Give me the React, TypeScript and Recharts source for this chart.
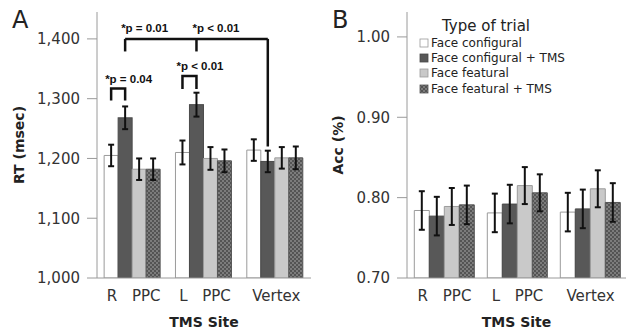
import { BarChart, Bar, XAxis, YAxis, ErrorBar, Legend } from 'recharts';

// categories / series
const sites = ['R PPC', 'L PPC', 'Vertex'];
const trialTypes = ['Face configural', 'Face configural + TMS', 'Face featural', 'Face featural + TMS'];

// panel A - reaction time (msec), mean and error
const rtConfig = [1205, 1210, 1214];
const rtConfigTms = [1268, 1290, 1195];
const rtFeat = [1182, 1200, 1201];
const rtFeatTms = [1182, 1196, 1201];
const rtConfigErr = [18, 20, 18];
const rtConfigTmsErr = [19, 20, 18];
const rtFeatErr = [18, 19, 18];
const rtFeatTmsErr = [18, 19, 19];
const rtTicks = [1000, 1100, 1200, 1300, 1400];

// panel B - accuracy
const accConfig = [0.784, 0.781, 0.782];
const accConfigTms = [0.777, 0.792, 0.786];
const accFeat = [0.789, 0.815, 0.811];
const accFeatTms = [0.791, 0.806, 0.794];
const accConfigErr = [0.024, 0.024, 0.024];
const accConfigTmsErr = [0.024, 0.024, 0.024];
const accFeatErr = [0.023, 0.023, 0.023];
const accFeatTmsErr = [0.024, 0.023, 0.024];
const accTicks = [0.7, 0.8, 0.9, 1.0];

// significance annotations (RT, in msec)
const pairText = ['*p = 0.04', '*p < 0.01', ''];
const pairTop = [1317, 1338, 0];
const pairBottom = [1297, 1316, 0];
const siteText = ['*p = 0.01', '*p < 0.01'];
const siteTop = 1400;
const siteLegBottom = [1379, 1379, 1220];

const RT_MIN = 1000;
const FONT = '"DejaVu Sans", Verdana, sans-serif';
const STAR_FONT = '"Liberation Sans", Arial, sans-serif';

// layout of panel A (used to step between category bands)
const A_W = 312;
const A_YAXIS = 97;
const A_RIGHT = 1;
const A_BAND = (A_W - A_YAXIS - A_RIGHT) / sites.length;

const keys = ['c', 'ct', 'f', 'ft'];
const fills = ['#ffffff', '#585858', '#c9c9c9', 'url(#hatch)'];
const strokes = ['#9a9a9a', '#4a4a4a', '#9c9c9c', '#555555'];

const rtRows = sites.map((site, i) => ({
  site,
  c: rtConfig[i], ct: rtConfigTms[i], f: rtFeat[i], ft: rtFeatTms[i],
  cErr: rtConfigErr[i], ctErr: rtConfigTmsErr[i], fErr: rtFeatErr[i], ftErr: rtFeatTmsErr[i],
}));

const accRows = sites.map((site, i) => ({
  site,
  c: accConfig[i], ct: accConfigTms[i], f: accFeat[i], ft: accFeatTms[i],
  cErr: accConfigErr[i], ctErr: accConfigTmsErr[i], fErr: accFeatErr[i], ftErr: accFeatTmsErr[i],
}));

const SiteTick = (props: any) => {
  const { x, y, payload } = props;
  return (
    <text x={x + 1} y={y + 23} textAnchor="middle" fontSize={15} fill="#333" fontFamily={FONT} style={{ wordSpacing: 10 }}>
      {payload.value}
    </text>
  );
};

// dark bar of panel A also carries the significance brackets
const DarkBarA = (props: any) => {
  const { x, y, width, height, index, payload, fill, stroke } = props;
  const k = height / (payload.ct - RT_MIN);
  const py = (v: number) => y + height - (v - RT_MIN) * k;
  const cx = x + width / 2;
  const parts: any[] = [
    <rect key="bar" x={x} y={y} width={width} height={height} fill={fill} stroke={stroke} />,
  ];
  if (pairText[index]) {
    const lx = cx - width;
    const top = py(pairTop[index]);
    const bot = py(pairBottom[index]);
    parts.push(
      <path key="pb" d={`M${lx},${bot}V${top}H${cx}V${bot}`} fill="none" stroke="#111" strokeWidth={2.5} />,
      <text key="pt" x={lx - 6} y={top - 6} fontSize={11.5} fontWeight="bold" fontFamily={STAR_FONT} fill="#111">
        {pairText[index]}
      </text>
    );
  }
  if (index === sites.length - 1) {
    const top = py(siteTop);
    const legs = siteLegBottom.map((v, j) => ({ lx: cx - (sites.length - 1 - j) * A_BAND, by: py(v) }));
    parts.push(
      <path key="sh" d={`M${legs[0].lx},${top}H${legs[2].lx}`} fill="none" stroke="#111" strokeWidth={2.5} />
    );
    legs.forEach((l, j) => {
      parts.push(<path key={'sl' + j} d={`M${l.lx},${top}V${l.by}`} fill="none" stroke="#111" strokeWidth={2.5} />);
      if (siteText[j]) {
        parts.push(
          <text key={'st' + j} x={l.lx - 4} y={top - 7} fontSize={11.5} fontWeight="bold" fontFamily={STAR_FONT} fill="#111">
            {siteText[j]}
          </text>
        );
      }
    });
  }
  return <g>{parts}</g>;
};

const TrialLegend = () => (
  <div style={{ fontFamily: FONT, color: '#222' }}>
    <div style={{ fontSize: 15, lineHeight: '18px', paddingLeft: 23 }}>Type of trial</div>
    {trialTypes.map((name, i) => (
      <div key={name} style={{ display: 'flex', alignItems: 'center', height: 15.3, fontSize: 12, whiteSpace: 'nowrap' }}>
        <svg width={10} height={10} style={{ marginRight: 2 }}>
          <rect x={1} y={1} width={8} height={8} fill={fills[i]} stroke={strokes[i]} strokeWidth={0.8} />
        </svg>
        {name}
      </div>
    ))}
  </div>
);

const axisGray = '#9a9a9a';
const frameGray = '#d0d0d0';

function bars(withBrackets: boolean) {
  return keys.map((k, i) => (
    <Bar
      key={k}
      dataKey={k}
      name={trialTypes[i]}
      fill={fills[i]}
      stroke={strokes[i]}
      strokeWidth={1}
      isAnimationActive={false}
      shape={withBrackets && k === 'ct' ? <DarkBarA /> : undefined}
    >
      <ErrorBar dataKey={k + 'Err'} width={3} stroke="#111" strokeWidth={2} isAnimationActive={false} />
    </Bar>
  ));
}

export default function App() {
  const letter = { position: 'absolute' as const, top: 6, fontFamily: FONT, fontSize: 24, color: '#222' };
  return (
    <div style={{ position: 'absolute', left: 0, top: 0, width: 627, height: 331, background: '#fff', overflow: 'hidden' }}>
      <svg width={0} height={0} style={{ position: 'absolute' }}>
        <defs>
          <pattern id="hatch" width="4" height="4" patternUnits="userSpaceOnUse">
            <rect width="4" height="4" fill="#7c7c7c" />
            <rect width="2" height="2" fill="#545454" />
            <rect x="2" y="2" width="2" height="2" fill="#545454" />
          </pattern>
        </defs>
      </svg>

      <div style={{ ...letter, left: 12 }}>A</div>
      <div style={{ ...letter, left: 332 }}>B</div>

      <div style={{ position: 'absolute', left: 0, top: 0 }}>
        <BarChart width={A_W} height={331} data={rtRows} margin={{ top: 12, right: A_RIGHT, bottom: 0, left: 0 }} barGap={0} barCategoryGap="10%">
          <XAxis
            dataKey="site"
            height={53}
            tickLine={false}
            tickSize={0}
            tickMargin={0}
            tick={<SiteTick />}
            axisLine={{ stroke: axisGray }}
            label={{ value: 'TMS Site', position: 'insideBottom', offset: 4, style: { fontSize: 14, fontWeight: 'bold', fill: '#222', fontFamily: FONT } }}
          />
          <XAxis xAxisId="top" dataKey="site" orientation="top" height={0} tick={false} tickLine={false} axisLine={{ stroke: frameGray }} />
          <YAxis
            type="number"
            domain={[1000, 1445]}
            ticks={rtTicks}
            allowDataOverflow
            width={A_YAXIS}
            tickSize={10}
            tickMargin={7}
            tickLine={{ stroke: axisGray }}
            axisLine={{ stroke: axisGray }}
            tick={{ fontSize: 15, fill: '#333', fontFamily: FONT }}
            tickFormatter={(v: number) => v.toLocaleString('en-US')}
            label={{ value: 'RT (msec)', angle: -90, position: 'insideLeft', offset: 19, style: { textAnchor: 'middle', fontSize: 14, fontWeight: 'bold', fill: '#222', fontFamily: FONT } }}
          />
          <YAxis yAxisId="right" orientation="right" type="number" domain={[1000, 1445]} width={0} tick={false} tickLine={false} axisLine={{ stroke: frameGray }} />
          {bars(true)}
        </BarChart>
      </div>

      <div style={{ position: 'absolute', left: 312, top: 0 }}>
        <BarChart width={315} height={331} data={accRows} margin={{ top: 12, right: 1, bottom: 0, left: 0 }} barGap={0} barCategoryGap="10%">
          <XAxis
            dataKey="site"
            height={53}
            tickLine={false}
            tickSize={0}
            tickMargin={0}
            tick={<SiteTick />}
            axisLine={{ stroke: axisGray }}
            label={{ value: 'TMS Site', position: 'insideBottom', offset: 4, style: { fontSize: 14, fontWeight: 'bold', fill: '#222', fontFamily: FONT } }}
          />
          <XAxis xAxisId="top" dataKey="site" orientation="top" height={0} tick={false} tickLine={false} axisLine={{ stroke: frameGray }} />
          <YAxis
            type="number"
            domain={[0.7, 1.031]}
            ticks={accTicks}
            allowDataOverflow
            width={95}
            tickSize={10}
            tickMargin={7}
            tickLine={{ stroke: axisGray }}
            axisLine={{ stroke: axisGray }}
            tick={{ fontSize: 15, fill: '#333', fontFamily: FONT }}
            tickFormatter={(v: number) => v.toFixed(2)}
            label={{ value: 'Acc (%)', angle: -90, position: 'insideLeft', offset: 26, style: { textAnchor: 'middle', fontSize: 14, fontWeight: 'bold', fill: '#222', fontFamily: FONT } }}
          />
          <YAxis yAxisId="right" orientation="right" type="number" domain={[0.7, 1.031]} width={0} tick={false} tickLine={false} axisLine={{ stroke: frameGray }} />
          <Legend layout="vertical" align="center" verticalAlign="middle" wrapperStyle={{ left: 107, top: 17, width: 'auto' }} content={() => <TrialLegend />} />
          {bars(false)}
        </BarChart>
      </div>
    </div>
  );
}
